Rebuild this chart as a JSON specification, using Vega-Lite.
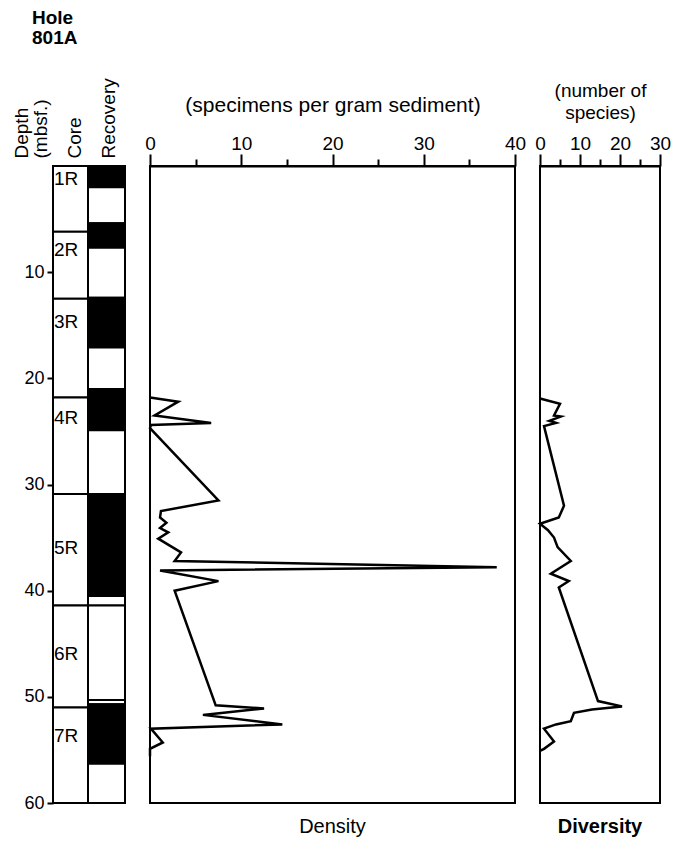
{
  "$schema": "https://vega.github.io/schema/vega-lite/v6.json",
  "padding": {"left": 11, "top": 8, "right": 5, "bottom": 5},
  "background": "white",
  "config": {
    "font": "Liberation Sans",
    "view": {"stroke": "black", "strokeWidth": 2},
    "axis": {"labelFont": "Liberation Sans", "titleFont": "Liberation Sans", "labelColor": "black", "titleColor": "black", "domainColor": "black", "tickColor": "black", "grid": false, "titleFontWeight": "normal"},
    "title": {"font": "Liberation Sans", "color": "black"}
  },
  "datasets": {
    "cores": [
      {"core": "1R", "top": 0, "bottom": 6.2, "label": 1.2},
      {"core": "2R", "top": 6.2, "bottom": 12.5, "label": 7.9},
      {"core": "3R", "top": 12.5, "bottom": 21.8, "label": 14.7},
      {"core": "4R", "top": 21.8, "bottom": 30.9, "label": 23.7},
      {"core": "5R", "top": 30.9, "bottom": 41.4, "label": 36.0},
      {"core": "6R", "top": 41.4, "bottom": 51.0, "label": 46.0},
      {"core": "7R", "top": 51.0, "bottom": 60, "label": 53.7}
    ],
    "recovery": [
      {"top": 0, "bottom": 2.0, "rec": "yes"},
      {"top": 2.0, "bottom": 5.4, "rec": "no"},
      {"top": 5.4, "bottom": 7.7, "rec": "yes"},
      {"top": 7.7, "bottom": 12.4, "rec": "no"},
      {"top": 12.4, "bottom": 17.1, "rec": "yes"},
      {"top": 17.1, "bottom": 21.0, "rec": "no"},
      {"top": 21.0, "bottom": 24.9, "rec": "yes"},
      {"top": 24.9, "bottom": 30.9, "rec": "no"},
      {"top": 30.9, "bottom": 40.5, "rec": "yes"},
      {"top": 40.5, "bottom": 41.4, "rec": "no"},
      {"top": 41.4, "bottom": 50.3, "rec": "no"},
      {"top": 50.3, "bottom": 50.7, "rec": "no"},
      {"top": 50.7, "bottom": 56.3, "rec": "yes"},
      {"top": 56.3, "bottom": 60, "rec": "no"}
    ]
  },
  "bounds": "flush",
  "spacing": 25,
  "hconcat": [
    {
      "width": 72,
      "height": 637,
      "view": {"stroke": null},
      "title": {"text": ["Hole", "801A"], "fontSize": 19, "fontWeight": "bold", "anchor": "start", "dx": 20, "offset": 30, "lineHeight": 20},
      "resolve": {"axis": {"x": "independent"}},
      "layer": [
        {
          "data": {"name": "cores"},
          "mark": {"type": "rect", "fill": "white", "stroke": "black", "strokeWidth": 2},
          "encoding": {
            "x": {"datum": 0, "type": "quantitative", "scale": {"domain": [0, 72], "nice": false},
              "axis": {"orient": "top", "title": "Core", "labels": false, "ticks": false, "domain": false, "titleAngle": 270, "titleAlign": "left", "titleBaseline": "middle", "titleX": 21, "titleY": -8, "titleFontSize": 19}},
            "x2": {"datum": 35},
            "y": {"field": "top", "type": "quantitative", "scale": {"domain": [0, 60], "reverse": true, "nice": false, "zero": false},
              "axis": {"orient": "left", "values": [10, 20, 30, 40, 50, 60], "tickSize": 6, "tickWidth": 2, "domainWidth": 2, "labelFontSize": 18, "labelPadding": 3, "title": ["Depth", "(mbsf.)"], "titleFontSize": 19, "titleAngle": 270, "titleAlign": "left", "titleBaseline": "middle", "titleX": -32, "titleY": -8, "titleLineHeight": 19}},
            "y2": {"field": "bottom"}
          }
        },
        {
          "data": {"name": "cores"},
          "mark": {"type": "text", "align": "left", "baseline": "middle", "fontSize": 19, "dx": 1, "color": "black"},
          "encoding": {
            "x": {"datum": 0, "type": "quantitative", "axis": null},
            "y": {"field": "label", "type": "quantitative",
              "axis": {"orient": "left", "values": [10, 20, 30, 40, 50, 60], "tickSize": 6, "tickWidth": 2, "domainWidth": 2, "labelFontSize": 18, "labelPadding": 3, "title": ["Depth", "(mbsf.)"], "titleFontSize": 19, "titleAngle": 270, "titleAlign": "left", "titleBaseline": "middle", "titleX": -32, "titleY": -8, "titleLineHeight": 19}},
            "text": {"field": "core"}
          }
        },
        {
          "data": {"name": "recovery"},
          "mark": {"type": "rect", "stroke": "black", "strokeWidth": 2},
          "encoding": {
            "x": {"datum": 35, "type": "quantitative",
              "axis": {"orient": "top", "title": "Recovery", "labels": false, "ticks": false, "domain": false, "titleAngle": 270, "titleAlign": "left", "titleBaseline": "middle", "titleX": 55, "titleY": -8, "titleFontSize": 19}},
            "x2": {"datum": 72},
            "y": {"field": "top", "type": "quantitative",
              "axis": {"orient": "left", "values": [10, 20, 30, 40, 50, 60], "tickSize": 6, "tickWidth": 2, "domainWidth": 2, "labelFontSize": 18, "labelPadding": 3, "title": ["Depth", "(mbsf.)"], "titleFontSize": 19, "titleAngle": 270, "titleAlign": "left", "titleBaseline": "middle", "titleX": -32, "titleY": -8, "titleLineHeight": 19}},
            "y2": {"field": "bottom"},
            "fill": {"field": "rec", "type": "nominal", "scale": {"domain": ["yes", "no"], "range": ["black", "white"]}, "legend": null}
          }
        }
      ]
    },
    {
      "width": 365,
      "height": 637,
      "title": {"text": "Density", "orient": "bottom", "fontSize": 20, "fontWeight": "normal", "offset": 14},
      "data": {"values": [
        {"depth": 21.8, "density": 0},
        {"depth": 22.2, "density": 3.1},
        {"depth": 23.5, "density": 0.5},
        {"depth": 24.2, "density": 6.7},
        {"depth": 24.4, "density": 0.1},
        {"depth": 24.7, "density": 0},
        {"depth": 31.5, "density": 7.5},
        {"depth": 32.5, "density": 1.2},
        {"depth": 33.1, "density": 1.1},
        {"depth": 33.6, "density": 1.8},
        {"depth": 34.1, "density": 1.1},
        {"depth": 34.5, "density": 2.0},
        {"depth": 35.1, "density": 0.9},
        {"depth": 36.4, "density": 3.4},
        {"depth": 37.2, "density": 2.7},
        {"depth": 37.8, "density": 38},
        {"depth": 38.1, "density": 1.1},
        {"depth": 39.1, "density": 7.5},
        {"depth": 40.0, "density": 2.7},
        {"depth": 50.8, "density": 7.2},
        {"depth": 51.1, "density": 12.5},
        {"depth": 51.7, "density": 5.8},
        {"depth": 52.6, "density": 14.5},
        {"depth": 53.0, "density": 0.1},
        {"depth": 54.3, "density": 1.4},
        {"depth": 54.9, "density": 0},
        {"depth": 55.6, "density": 0}
      ]},
      "mark": {"type": "line", "color": "black", "strokeWidth": 2.5},
      "encoding": {
        "x": {"field": "density", "type": "quantitative", "scale": {"domain": [0, 40], "nice": false},
          "axis": {"orient": "top", "values": [0, 5, 10, 15, 20, 25, 30, 35, 40], "labelExpr": "datum.value % 10 === 0 ? datum.label : ''",
            "tickSize": {"condition": {"test": "datum.value % 10 === 0", "value": 12}, "value": 7},
            "tickWidth": 2, "domainWidth": 2, "labelFontSize": 19, "labelPadding": 1, "labelFlush": false,
            "title": "(specimens per gram sediment)", "titleFontSize": 21, "titlePadding": 19}},
        "y": {"field": "depth", "type": "quantitative", "scale": {"domain": [0, 60], "reverse": true, "nice": false, "zero": false}, "axis": null},
        "order": {"field": "depth", "type": "quantitative"}
      }
    },
    {
      "width": 120,
      "height": 637,
      "title": {"text": "Diversity", "orient": "bottom", "fontSize": 20, "fontWeight": "bold", "offset": 14},
      "data": {"values": [
        {"depth": 21.9, "species": 0},
        {"depth": 22.4, "species": 5},
        {"depth": 23.5, "species": 3.5},
        {"depth": 23.6, "species": 5.2},
        {"depth": 24.0, "species": 2.3},
        {"depth": 24.2, "species": 4},
        {"depth": 24.5, "species": 1},
        {"depth": 32.0, "species": 6},
        {"depth": 33.1, "species": 4.7},
        {"depth": 33.7, "species": 0},
        {"depth": 34.3, "species": 2},
        {"depth": 35.0, "species": 3.5},
        {"depth": 35.9, "species": 4.4},
        {"depth": 37.2, "species": 7.7},
        {"depth": 38.4, "species": 2.7},
        {"depth": 39.1, "species": 7.2},
        {"depth": 39.7, "species": 4.7},
        {"depth": 50.4, "species": 14.5},
        {"depth": 50.9, "species": 20.5},
        {"depth": 51.2, "species": 13},
        {"depth": 51.5, "species": 8.5},
        {"depth": 52.3, "species": 7.7},
        {"depth": 52.6, "species": 4},
        {"depth": 53.0, "species": 1},
        {"depth": 54.2, "species": 3.5},
        {"depth": 54.9, "species": 1},
        {"depth": 55.1, "species": 0}
      ]},
      "mark": {"type": "line", "color": "black", "strokeWidth": 2.5},
      "encoding": {
        "x": {"field": "species", "type": "quantitative", "scale": {"domain": [0, 30], "nice": false},
          "axis": {"orient": "top", "values": [0, 5, 10, 15, 20, 25, 30], "labelExpr": "datum.value % 10 === 0 ? datum.label : ''",
            "tickSize": {"condition": {"test": "datum.value % 10 === 0", "value": 12}, "value": 7},
            "tickWidth": 2, "domainWidth": 2, "labelFontSize": 19, "labelPadding": 1, "labelFlush": false,
            "title": ["(number of", "species)"], "titleFontSize": 19, "titleLineHeight": 22, "titlePadding": 12}},
        "y": {"field": "depth", "type": "quantitative", "scale": {"domain": [0, 60], "reverse": true, "nice": false, "zero": false}, "axis": null},
        "order": {"field": "depth", "type": "quantitative"}
      }
    }
  ]
}
